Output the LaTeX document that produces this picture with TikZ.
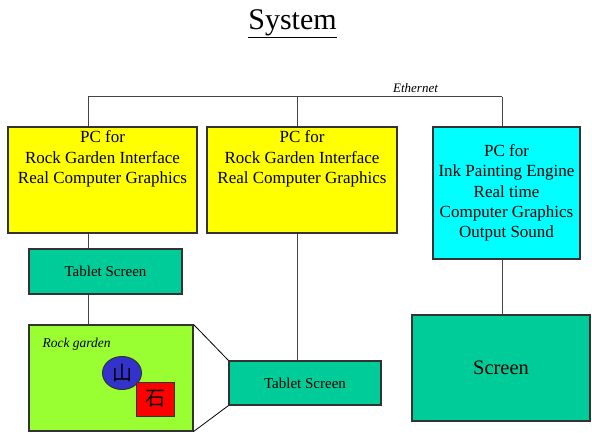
\documentclass[tikz,border=0pt]{standalone}
\usepackage{fontspec}
\setmainfont{Liberation Serif}
\newfontfamily\cjk{Noto Sans CJK JP}
\usetikzlibrary{shapes.geometric}
\definecolor{pcyellow}{HTML}{FFFF00}
\definecolor{pccyan}{HTML}{00FFFF}
\definecolor{tabteal}{HTML}{00CC99}
\definecolor{rockgreen}{HTML}{99FF33}
\definecolor{stoneblue}{HTML}{3333CC}
\definecolor{stonered}{HTML}{FF0000}
\definecolor{edge}{HTML}{333333}
\definecolor{wire}{HTML}{444444}
\tikzset{
  box/.style={draw=edge, line width=1.1pt, rectangle, inner sep=0pt},
  wireline/.style={draw=wire, line width=0.8pt},
  boxtext/.style={font=\fontsize{17}{20.3}\selectfont, align=center},
}
\begin{document}
\begin{tikzpicture}[x=1pt,y=-1pt]
\useasboundingbox (0,0) rectangle (592,432);
% title
\node[font=\fontsize{30}{34}\selectfont, anchor=base] (title) at (292.5,29) {\underline{System}};
% ethernet
\node[font=\fontsize{13}{14}\selectfont\itshape, anchor=base] (eth) at (415.5,92) {Ethernet};
\coordinate (e1) at (88,96.5);
\coordinate (e2) at (297,96.5);
\coordinate (e3) at (502,96.5);
% PCs
\node[box, fill=pcyellow, minimum width=189pt, minimum height=106pt,
  label={[boxtext, anchor=north, yshift=-1pt]north:PC for\\Rock Garden Interface\\Real Computer Graphics}] (pc1) at (102.5,180) {};
\node[box, fill=pcyellow, minimum width=190pt, minimum height=106pt,
  label={[boxtext, anchor=north, yshift=-1pt]north:PC for\\Rock Garden Interface\\Real Computer Graphics}] (pc2) at (302,180) {};
\node[box, fill=pccyan, minimum width=147pt, minimum height=132pt, boxtext] (pc3) at (506.5,193)
  {PC for\\Ink Painting Engine\\Real time\\Computer Graphics\\Output Sound};
% tablets
\node[box, fill=tabteal, minimum width=153pt, minimum height=45pt, font=\fontsize{15}{17}\selectfont] (tab1) at (105.5,271.5) {Tablet Screen};
\node[box, fill=tabteal, minimum width=152pt, minimum height=44pt, font=\fontsize{15}{17}\selectfont] (tab2) at (305,383) {Tablet Screen};
% rock garden
\node[box, fill=rockgreen, minimum width=164pt, minimum height=106pt] (rock) at (111,378) {};
\node[font=\fontsize{13.5}{15}\selectfont\itshape, anchor=base west] (rocklbl) at (39,347) {Rock garden};
\node[ellipse, draw=edge, line width=1pt, fill=stoneblue, minimum width=39pt, minimum height=33pt, inner sep=0pt, font=\cjk\fontsize{20}{20}\selectfont] (yama) at (122,373) {山};
\node[box, line width=1pt, fill=stonered, minimum width=38pt, minimum height=34pt, font=\cjk\fontsize{20}{20}\selectfont] (ishi) at (155,399) {石};
% screen
\node[box, fill=tabteal, minimum width=178pt, minimum height=106pt, font=\fontsize{20.5}{23}\selectfont] (scr) at (501,368) {Screen};
% wiring
\draw[wireline] (e1) -- (e3);
\draw[wireline] (e1) -- (e1 |- pc1.north);
\draw[wireline] (e2) -- (e2 |- pc2.north);
\draw[wireline] (e3) -- (e3 |- pc3.north);
\draw[wireline] (pc1.south -| e1) -- (tab1.north -| e1);
\draw[wireline] (tab1.south -| e1) -- (rock.north -| e1);
\draw[wireline] (pc2.south -| e2) -- (tab2.north -| e2);
\draw[wireline] (pc3.south -| e3) -- (scr.north -| e3);
\draw[wireline, draw=black] (rock.north east) -- (tab2.north west);
\draw[wireline, draw=black] (rock.south east) -- (tab2.south west);
\end{tikzpicture}
\end{document}
